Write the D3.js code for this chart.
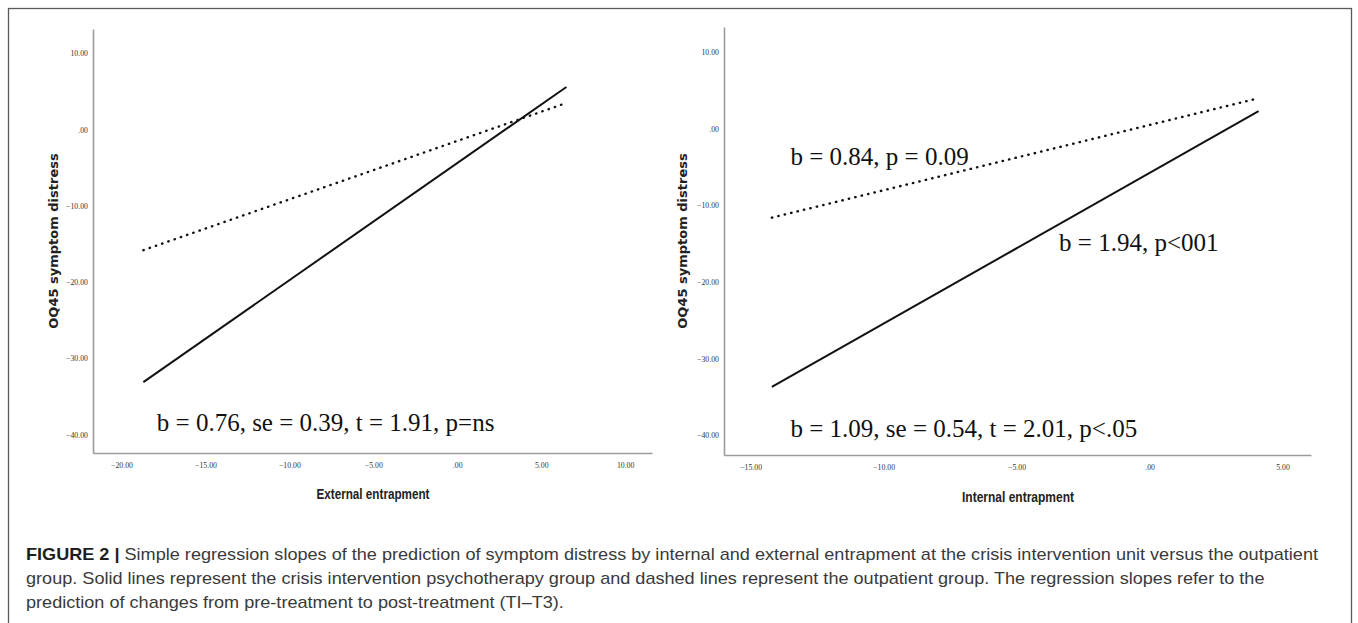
<!DOCTYPE html>
<html>
<head>
<meta charset="utf-8">
<script src="https://cdn.jsdelivr.net/npm/d3@7/dist/d3.min.js"></script>
<style>
  html, body { margin: 0; padding: 0; background: #fff; }
  svg { display: block; }
</style>
</head>
<body>
<svg id="fig" width="1358" height="623"></svg>
<script>
// Simple slopes: endpoints of each regression line (x = entrapment, y = OQ45 change)
const extX = [-18.7, 6.5];
const extSolid = [-33.1, 5.6];   // crisis intervention group
const extDotted = [-15.8, 3.5];  // outpatient group

const intX = [-14.2, 4.1];
const intSolid = [-33.7, 2.3];
const intDotted = [-11.6, 4.0];

// Axis ticks
const yTicks = [10, 0, -10, -20, -30, -40];
const extXTicks = [-20, -15, -10, -5, 0, 5, 10];
const intXTicks = [-15, -10, -5, 0, 5];

const yTitle = "OQ45 symptom distress";
const extTitle = "External entrapment";
const intTitle = "Internal entrapment";

const extNotes = [{ text: "b = 0.76, se = 0.39, t = 1.91, p=ns", x: -17.9, y: -39.5 }];
const intNotes = [
  { text: "b = 0.84, p = 0.09", x: -13.5, y: -4.7 },
  { text: "b = 1.94, p<001", x: -3.4, y: -15.9 },
  { text: "b = 1.09, se = 0.54, t = 2.01, p<.05", x: -13.5, y: -40.3 }
];

const captionLines = [
  ["FIGURE 2 |", " Simple regression slopes of the prediction of symptom distress by internal and external entrapment at the crisis intervention unit versus the outpatient"],
  [null, "group. Solid lines represent the crisis intervention psychotherapy group and dashed lines represent the outpatient group. The regression slopes refer to the"],
  [null, "prediction of changes from pre-treatment to post-treatment (TI\u2013T3)."]
];

const svg = d3.select("#fig");

// outer frame
svg.append("rect")
  .attr("x", 8.5).attr("y", 8.5)
  .attr("width", 1343).attr("height", 630)
  .attr("fill", "none").attr("stroke", "#5a5a5a").attr("stroke-width", 1.3);

const fmt = d => d === 0 ? ".00" : d3.format(".2f")(d);

function panel(cfg) {
  const g = svg.append("g");
  const x = d3.scaleLinear().domain(cfg.xDomain).range(cfg.xRange);
  const y = d3.scaleLinear().domain(cfg.yDomain).range(cfg.yRange);

  const xAxis = g.append("g")
    .attr("transform", `translate(0,${cfg.yRange[0]})`)
    .call(d3.axisBottom(x).tickValues(cfg.xTicks).tickFormat(fmt)
      .tickSize(0).tickSizeOuter(0).tickPadding(9));
  const yAxis = g.append("g")
    .attr("transform", `translate(${cfg.xRange[0]},0)`)
    .call(d3.axisLeft(y).tickValues(yTicks).tickFormat(fmt)
      .tickSize(0).tickSizeOuter(0).tickPadding(5));

  [xAxis, yAxis].forEach(a => {
    a.select(".domain").attr("stroke", "#9b9b9b").attr("stroke-width", 1.6);
    a.selectAll("text")
      .attr("font-family", "'Liberation Serif', serif")
      .attr("font-size", 7.8)
      .attr("fill", "#333");
  });

  const line = d3.line().x(d => x(d[0])).y(d => y(d[1]));

  g.append("path")
    .datum(cfg.xs.map((v, i) => [v, cfg.dotted[i]]))
    .attr("d", line)
    .attr("fill", "none").attr("stroke", "#111")
    .attr("stroke-width", 2.4)
    .attr("stroke-linecap", "round")
    .attr("stroke-dasharray", "0.4 6.2");

  g.append("path")
    .datum(cfg.xs.map((v, i) => [v, cfg.solid[i]]))
    .attr("d", line)
    .attr("fill", "none").attr("stroke", "#111")
    .attr("stroke-width", 2);

  // slope annotations
  g.selectAll("text.note").data(cfg.notes).join("text")
    .attr("class", "note")
    .attr("x", d => x(d.x)).attr("y", d => y(d.y))
    .attr("font-family", "'Liberation Serif', 'Times New Roman', serif")
    .attr("font-size", 25)
    .attr("fill", "#111")
    .text(d => d.text);

  // axis titles
  g.append("text")
    .attr("transform", `translate(${cfg.yTitleX},${(cfg.yRange[0] + cfg.yRange[1]) / 2}) rotate(-90)`)
    .attr("text-anchor", "middle")
    .attr("font-family", "'DejaVu Sans', sans-serif")
    .attr("font-weight", "bold")
    .attr("font-size", 13)
    .attr("fill", "#222")
    .text(yTitle);

  g.append("text")
    .attr("x", cfg.xTitleX).attr("y", cfg.xTitleY)
    .attr("text-anchor", "middle")
    .attr("font-family", "'Liberation Sans', Arial, sans-serif")
    .attr("font-weight", "bold")
    .attr("font-size", 14)
    .attr("textLength", cfg.xTitleW)
    .attr("lengthAdjust", "spacingAndGlyphs")
    .attr("fill", "#222")
    .text(cfg.xTitle);
}

panel({
  xDomain: [-21.7, 11.6], xRange: [93, 652],
  yDomain: [-42.4, 13.2], yRange: [453, 29],
  xTicks: extXTicks, xs: extX, solid: extSolid, dotted: extDotted,
  notes: extNotes, xTitle: extTitle, xTitleX: 373, xTitleY: 499, xTitleW: 113,
  yTitleX: 58
});

panel({
  xDomain: [-16.0, 6.07], xRange: [724, 1311],
  yDomain: [-42.6, 13.3], yRange: [455, 27],
  xTicks: intXTicks, xs: intX, solid: intSolid, dotted: intDotted,
  notes: intNotes, xTitle: intTitle, xTitleX: 1018, xTitleY: 502, xTitleW: 112,
  yTitleX: 687
});

// caption: one horizontal squeeze for all lines, set so the first line spans the frame
const capFirstWidth = 1292;
const capTexts = captionLines.map((ln, i) => {
  const t = svg.append("text")
    .attr("x", 26).attr("y", 560 + i * 24)
    .attr("font-family", "'Liberation Sans', Arial, sans-serif")
    .attr("font-size", 17)
    .attr("fill", "#3a3a3a");
  if (ln[0]) t.append("tspan").attr("font-weight", "bold").attr("fill", "#1e1e1e").text(ln[0]);
  t.append("tspan").text(ln[1]);
  return t;
});
const squeeze = capFirstWidth / capTexts[0].node().getComputedTextLength();
capTexts.forEach(t => {
  t.attr("textLength", t.node().getComputedTextLength() * squeeze)
   .attr("lengthAdjust", "spacingAndGlyphs");
});
</script>
</body>
</html>
